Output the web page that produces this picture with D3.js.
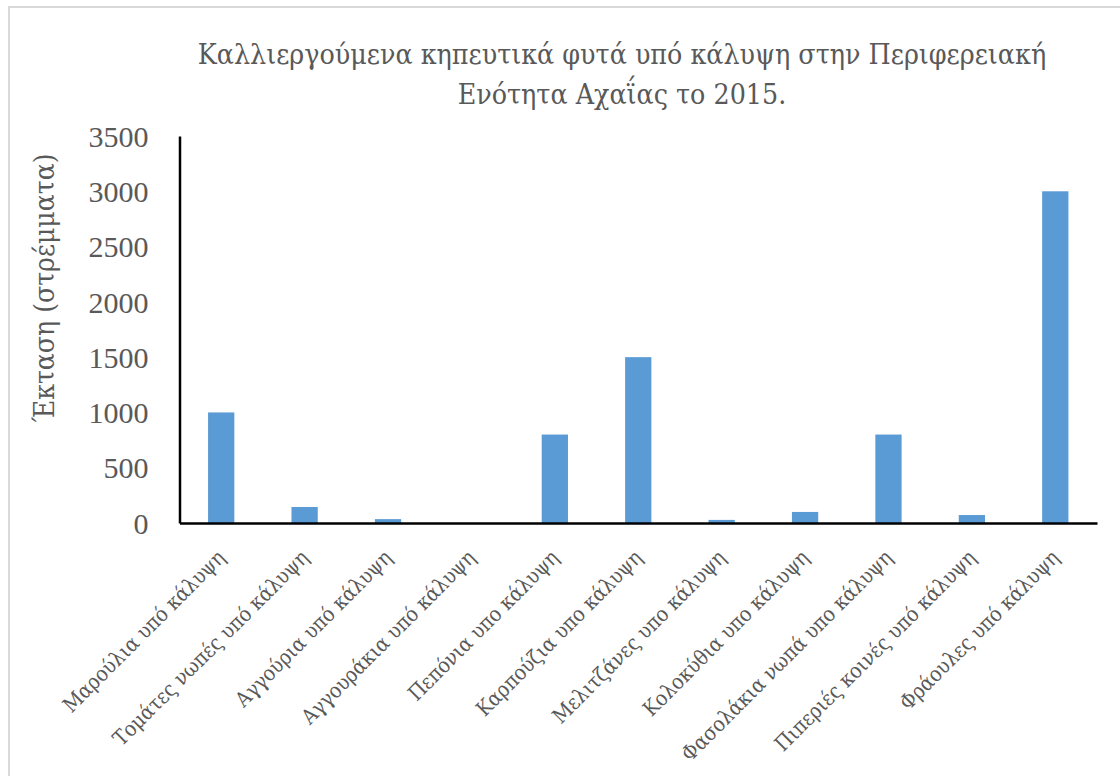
<!DOCTYPE html>
<html><head><meta charset="utf-8">
<script src="https://cdn.jsdelivr.net/npm/d3@7/dist/d3.min.js"></script>
<style>body{margin:0;background:#fff}svg{display:block}
text{font-family:"DejaVu Serif Condensed","DejaVu Serif","Liberation Serif",serif;fill:#595959}
.num{font-family:"Liberation Serif","DejaVu Serif",serif}</style>
</head><body><svg id="c" width="1120" height="776"></svg>
<script>
const categories = ["Μαρούλια υπό κάλυψη","Τομάτες νωπές υπό κάλυψη","Αγγούρια υπό κάλυψη","Αγγουράκια υπό κάλυψη","Πεπόνια υπο κάλυψη","Καρπούζια υπο κάλυψη","Μελιτζάνες υπο κάλυψη","Κολοκύθια υπο κάλυψη","Φασολάκια νωπά υπο κάλυψη","Πιπεριές κοινές υπό κάλυψη","Φράουλες υπό κάλυψη"];
const values = [1000,145,35,0,800,1500,28,100,800,72,3000];
const yTicks = [0,500,1000,1500,2000,2500,3000,3500];
const titleLines = ["Καλλιεργούμενα κηπευτικά φυτά υπό κάλυψη στην Περιφερειακή","Ενότητα Αχαΐας το 2015."];
const yTitle = "Έκταση (στρέμματα)";

const svg = d3.select("#c");
svg.append("rect").attr("x",9).attr("y",7).attr("width",1130).attr("height",800)
  .attr("fill","none").attr("stroke","#d9d9d9").attr("stroke-width",2);

const L=179.5, R=1097, T=136, B=523;
const x = d3.scaleBand().domain(categories).range([L,R]).paddingInner(0).paddingOuter(0);
const y = d3.scaleLinear().domain([0,3500]).range([B,T]);
const bw = x.bandwidth()*0.315;

function fit(sel, target, base){
  sel.attr("font-size",base);
  const w = sel.node().getComputedTextLength();
  return base*target/w;
}

svg.append("g").selectAll("rect").data(values).join("rect")
  .attr("x",(d,i)=>x(categories[i])+x.bandwidth()/2-bw/2)
  .attr("y",d=>y(d)).attr("width",bw).attr("height",d=>B-y(d))
  .attr("fill","#5b9bd5");

const ya = svg.append("g").attr("transform",`translate(${L},0)`)
  .call(d3.axisLeft(y).tickValues(yTicks).tickFormat(d3.format("d")).tickSize(0).tickPadding(31));
ya.attr("font-family",null).attr("font-size",null);
ya.select(".domain").attr("stroke","#000").attr("stroke-width",2.5);
ya.selectAll("text").attr("class","num").attr("font-size",30).attr("fill","#595959").attr("dy","0.34em");

const xa = svg.append("g").attr("transform",`translate(0,${B})`)
  .call(d3.axisBottom(x).tickSize(0).tickPadding(0));
xa.attr("font-family",null).attr("font-size",null);
xa.select(".domain").attr("stroke","#000").attr("stroke-width",2.5);
const xt = xa.selectAll("text");
const lfs = fit(d3.select(xt.nodes()[0]), 219, 20);
xt.attr("font-size",lfs).attr("fill","#595959")
  .attr("text-anchor","end").attr("y",0).attr("dy",0)
  .attr("transform","translate(5,36) rotate(-45)");

const tl = svg.append("g").selectAll("text").data(titleLines).join("text")
  .attr("x",622).attr("y",(d,i)=>64+i*40).attr("text-anchor","middle").text(d=>d);
const tfs = fit(d3.select(tl.nodes()[0]), 849, 26);
tl.attr("font-size",tfs);

const yt = svg.append("text").attr("transform","translate(54,288) rotate(-90)")
  .attr("text-anchor","middle").text(yTitle);
yt.attr("font-size",fit(yt,269,28));
</script></body></html>
